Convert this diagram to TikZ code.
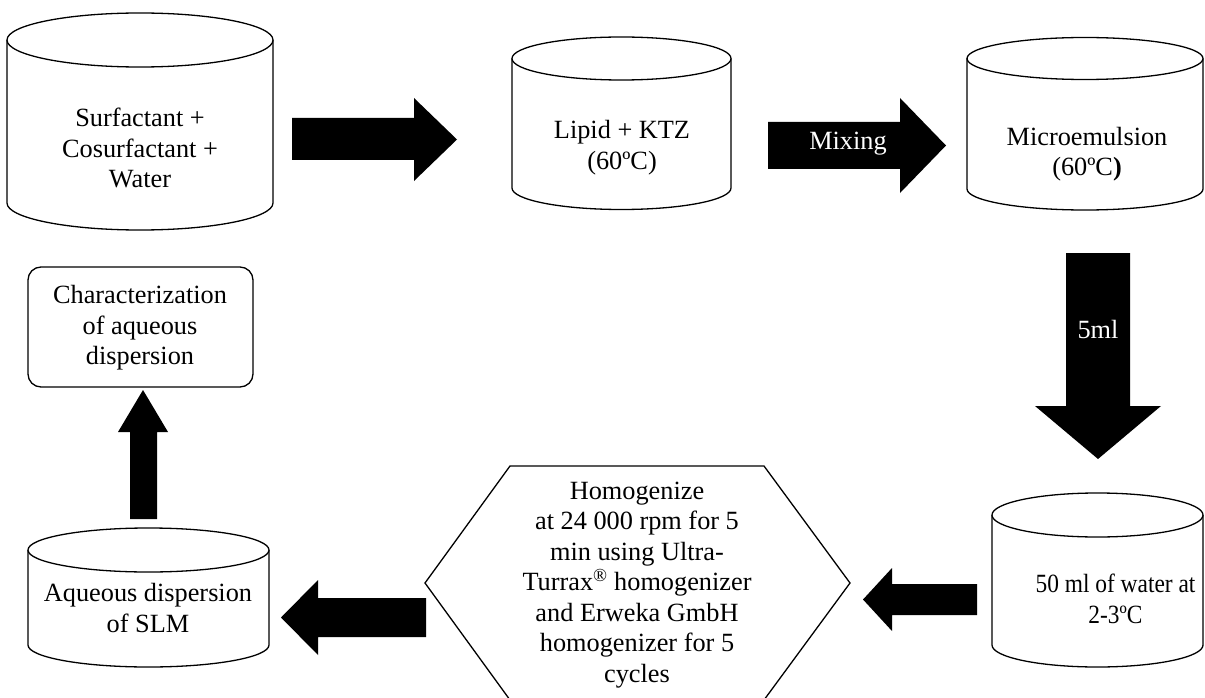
\documentclass[tikz,border=0pt]{standalone}
\usepackage{fontspec}
\setmainfont{Liberation Serif}
\newcommand\drawcyl[5]{%
  \pgfmathsetmacro\cylcx{(#1+#2)/2}%
  \pgfmathsetmacro\cylrx{(#2-#1)/2}%
  \draw[cyl] (#1,#3) -- (#1,#4) arc[start angle=180,end angle=0,x radius=\cylrx,y radius=#5] -- (#2,#3);
  \draw[cyl] (\cylcx,#3) ellipse [x radius=\cylrx, y radius=#5];
}
\begin{document}
\begin{tikzpicture}[x=1pt,y=-1pt,
  cyl/.style={draw=black,line width=1.3pt,fill=white,line join=round},
  lbl/.style={align=center,font=\fontsize{26.3}{30.5}\selectfont,inner sep=0pt},
  blk/.style={fill=black},
  outline/.style={draw=black,line width=1.3pt}]
\useasboundingbox (0,0) rectangle (1205,698);

% cylinders
\drawcyl{7}{273}{40}{203}{27}
\drawcyl{512}{731}{58.5}{188}{21.5}
\drawcyl{967}{1203}{58.5}{189}{21}
\drawcyl{992}{1203}{515}{645}{22}
\drawcyl{28}{269}{550}{645}{22}

% hexagon
\draw[outline] (425,583) -- (510,466) -- (764,466) -- (850,583) -- (764,700) -- (510,700) -- cycle;

% characterization box
\draw[outline,rounded corners=13pt] (28,267) rectangle (253,387);

% block arrows
\fill[blk] (292,118) -- (414,118) -- (414,98) -- (457,139.5) -- (414,181) -- (414,160) -- (292,160) -- cycle;
\fill[blk] (768,122) -- (900,122) -- (900,98) -- (946,145.5) -- (900,193) -- (900,169) -- (768,169) -- cycle;
\fill[blk] (1066,253) -- (1130,253) -- (1130,406) -- (1161,406) -- (1098,459) -- (1035,406) -- (1066,406) -- cycle;
\fill[blk] (977,584) -- (892,584) -- (892,568) -- (863,599.5) -- (892,631) -- (892,615) -- (977,615) -- cycle;
\fill[blk] (426,598) -- (318,598) -- (318,580) -- (281,617.5) -- (318,655) -- (318,637) -- (426,637) -- cycle;
\fill[blk] (130,519) -- (130,432) -- (118,432) -- (143,390) -- (168,432) -- (157,432) -- (157,519) -- cycle;

% texts
\node[lbl] (t1) at (140,148) {Surfactant +\\Cosurfactant +\\Water};
\node[lbl] (t2) at (622,147.5) {Lipid + KTZ\\(60ºC)};
\node[lbl] (t3) at (1087,154) {Microemulsion\\(60ºC\textbf{)}};
\node[lbl,xscale=0.89,transform shape] (t4) at (1115.5,599) {50 ml of water at\\2-3ºC};
\node[lbl] (t5) at (637,585) {Homogenize\\at 24 000 rpm for 5\\min using Ultra-\\Turrax\textsuperscript{\textregistered} homogenizer\\and Erweka GmbH\\homogenizer for 5\\cycles};
\node[lbl] (t6) at (148,608) {Aqueous dispersion\\of SLM};
\node[lbl] (t7) at (140,328) {Characterization\\of aqueous\\dispersion};
\node[lbl,text=white] (mix) at (848,144) {Mixing};
\node[lbl,text=white] (five) at (1098,330) {5ml};
\end{tikzpicture}
\end{document}
